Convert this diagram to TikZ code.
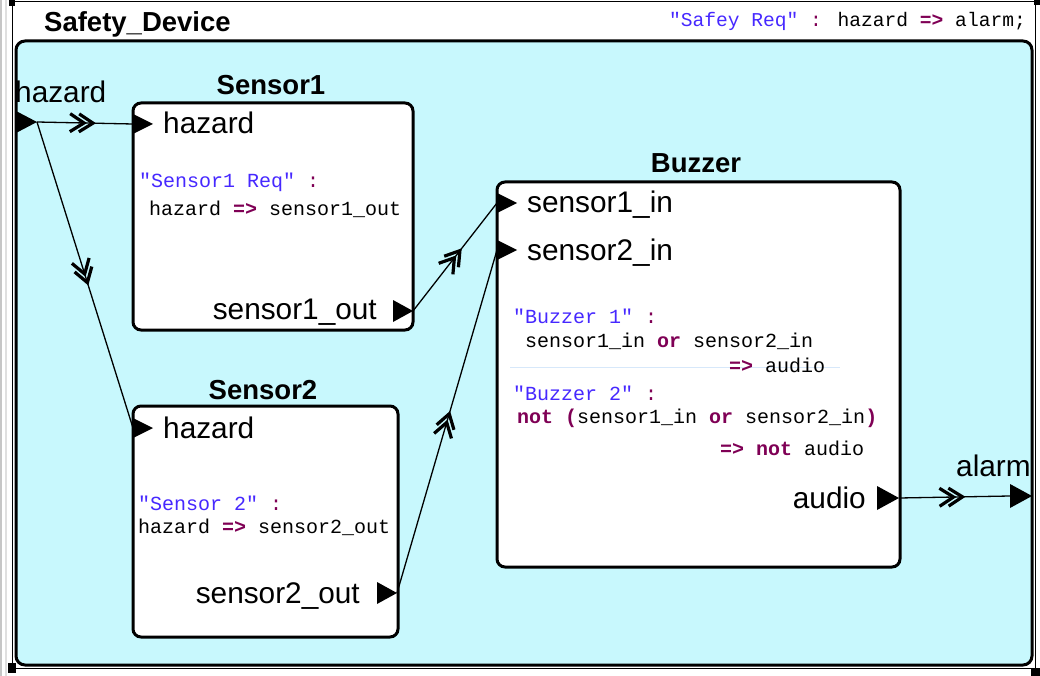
\documentclass[tikz,border=0pt]{standalone}
\usepackage{fontspec}
\setmainfont{Liberation Sans}
\newfontfamily\codefont{Liberation Mono}
\usetikzlibrary{decorations.markings}

\definecolor{devfill}{RGB}{200,248,253}
\definecolor{strcol}{RGB}{70,40,255}
\definecolor{kwcol}{RGB}{127,0,85}
\definecolor{cursorline}{RGB}{215,232,250}

% right-pointing port marker: base centre #1, half height #2, length #3
\newcommand\porttri[3]{\fill (#1) ++(0,-#2) -- ++(#3,#2) -- ++(-#3,#2) -- cycle;}
\newcommand\kw[1]{\textcolor{kwcol}{\bfseries #1}}
\newcommand\str[1]{\textcolor{strcol}{#1}}

\tikzset{
  block/.style={draw=black, line width=3pt, fill=white, rounded corners=8pt},
  blocktitle/.style={font=\bfseries\fontsize{27.5}{30}\selectfont, anchor=base, inner sep=0pt},
  portlabel/.style={font=\fontsize{29.8}{32}\selectfont, inner sep=0pt},
  code/.style={font=\codefont\fontsize{20}{22}\selectfont, anchor=base west, inner sep=0pt},
  % connector with a double open chevron half way along
  flow/.style={line width=1.3pt, postaction={decorate},
    decoration={markings, mark=at position 0.5 with
      {\draw[line width=3.2pt, line join=miter] (-6,-9) -- (8,0) -- (-6,9)
                                                (-15,-9) -- (-1,0) -- (-15,9);}}},
}

\begin{document}
\begin{tikzpicture}[x=1pt,y=-1pt]
\useasboundingbox (0,0) rectangle (1040,676);

% window edge and selection frame
\draw[gray!45, line width=1.5pt] (1,0) -- (1,676);
\draw[gray!25, line width=1.5pt] (6,0) -- (6,676);
\draw[line width=0.8pt] (12,1.5) -- (1035,1.5) -- (1035,668.5) -- (12,668.5) -- cycle;
\fill (9,0) rectangle (15,6);
\fill (1034,0) rectangle (1040,5);
\fill (8,663) rectangle (16,673);
\fill (1031,668) rectangle (1040,676);

% enclosing device
\draw[line width=3pt, fill=devfill, rounded corners=9pt] (16,41) rectangle (1032,665);
\node[font=\bfseries\fontsize{27.5}{30}\selectfont, anchor=base west, inner sep=0pt] (devTitle) at (44,32) {Safety\_Device};
\node[code, font=\codefont\fontsize{19.6}{22}\selectfont, anchor=base east] (devReq) at (1026,27) {\str{"Safey Req"} \textcolor{kwcol}{:} hazard \kw{=>} alarm;};

% blocks
\draw[block] (133,103) rectangle (413,330);
\draw[block] (133,406) rectangle (398,637);
\draw[block] (497,182) rectangle (900,567);

\node[blocktitle] (s1Title) at (271,95) {Sensor1};
\node[blocktitle] (s2Title) at (263,399) {Sensor2};
\node[blocktitle] (bzTitle) at (696,173) {Buzzer};

% port positions
\coordinate (devHzBase) at (16,122);
\coordinate (devHzTip) at (37,122);
\coordinate (s1HzPort) at (133,124);
\coordinate (s2HzPort) at (133,428);
\coordinate (s1OutBase) at (393,311);
\coordinate (s1OutTip) at (413,311);
\coordinate (s2OutBase) at (377,593);
\coordinate (s2OutTip) at (397,593);
\coordinate (bzIn1) at (497,203);
\coordinate (bzIn2) at (497,250);
\coordinate (audioBase) at (877,498);
\coordinate (audioTip) at (899,498);
\coordinate (alarmPort) at (1010,496);

% connectors
\draw[flow] (devHzTip) -- (s1HzPort);
\draw[flow] (devHzTip) -- (s2HzPort);
\draw[flow] (s1OutTip) -- (bzIn1);
\draw[flow] (s2OutTip) -- (bzIn2);
\draw[flow] (audioTip) -- (alarmPort);

% port markers
\porttri{devHzBase}{11}{21}
\porttri{s1HzPort}{10}{20}
\porttri{s2HzPort}{10}{20}
\porttri{s1OutBase}{11}{20}
\porttri{s2OutBase}{11}{20}
\porttri{bzIn1}{10}{20}
\porttri{bzIn2}{10}{20}
\porttri{audioBase}{12}{22}
\porttri{alarmPort}{12}{22}

% port labels
\node[portlabel, anchor=base west] (devHzLbl) at (15,103) {hazard};
\node[portlabel, anchor=base west] (alarmLbl) at (956,476) {alarm};
\node[portlabel, anchor=base west] (s1HzLbl) at (163,134) {hazard};
\node[portlabel, anchor=base east] (s1OutLbl) at (377,319) {sensor1\_out};
\node[portlabel, anchor=base west] (s2HzLbl) at (163,438) {hazard};
\node[portlabel, anchor=base east] (s2OutLbl) at (360,603) {sensor2\_out};
\node[portlabel, anchor=base west] (bzIn1Lbl) at (527,213) {sensor1\_in};
\node[portlabel, anchor=base west] (bzIn2Lbl) at (527,260) {sensor2\_in};
\node[portlabel, anchor=base east] (audioLbl) at (866,508) {audio};

% requirements
\node[code] (s1ReqA) at (139,188) {\str{"Sensor1 Req"} \textcolor{kwcol}{:}};
\node[code] (s1ReqB) at (149,215) {hazard \kw{=>} sensor1\_out};
\node[code] (s2ReqA) at (138,510) {\str{"Sensor 2"} \textcolor{kwcol}{:}};
\node[code] (s2ReqB) at (138,533) {hazard \kw{=>} sensor2\_out};

\draw[cursorline, line width=0.8pt] (510,367) -- (840,367);
\node[code] (bzReqA) at (513,323) {\str{"Buzzer 1"} \textcolor{kwcol}{:}};
\node[code] (bzReqB) at (525,347) {sensor1\_in \kw{or} sensor2\_in};
\node[code] (bzReqC) at (729,372) {\kw{=>} audio};
\node[code] (bzReqD) at (513,400) {\str{"Buzzer 2"} \textcolor{kwcol}{:}};
\node[code] (bzReqE) at (517,423) {\kw{not (}sensor1\_in \kw{or} sensor2\_in\kw{)}};
\node[code] (bzReqF) at (720,455) {\kw{=>} \kw{not} audio};
\end{tikzpicture}
\end{document}
